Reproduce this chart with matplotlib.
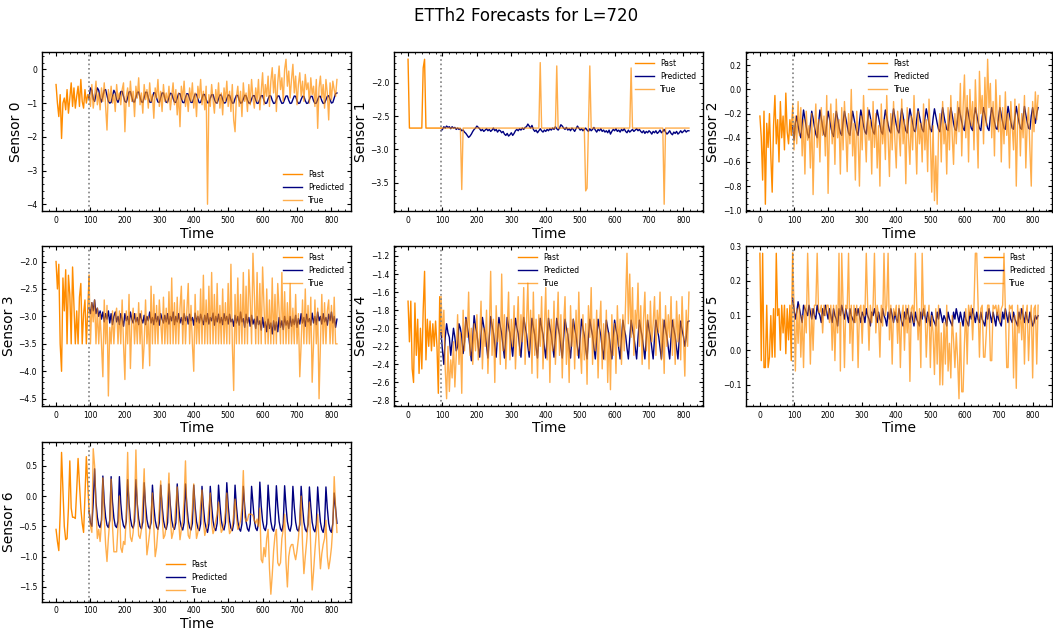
import numpy as np
import matplotlib
matplotlib.use("Agg")
from matplotlib import pyplot as plt

title = "ETTh2 Forecasts for L=720"
context_len = 96

# time axis: past window sampled every 4 steps, forecast window likewise
t_past = np.arange(0, 97, 4)
t_future = np.arange(96, 817, 4)

# ---------------- Sensor 0 ----------------
past0 = [-0.45, -1.00, -1.40, -0.75, -2.05, -1.00, -0.85, -1.20, -0.60, -1.30, -0.85, -0.40, -1.10,
         -0.55, -1.15, -0.80, -0.50, -1.10, -0.30, -0.95, -1.15, -0.60, -1.00, -0.75, -0.85]
pred0 = [-0.85, -0.55, -0.62, -0.88, -0.95, -0.75, -0.55, -0.62, -0.85, -0.97, -0.80, -0.62,
         -0.60, -0.78, -0.95, -1.00, -0.98, -0.80, -0.62, -0.70, -0.90, -0.98, -0.85, -0.66,
         -0.65, -0.80, -0.95, -0.98, -0.84, -0.67, -0.66, -0.82, -0.96, -0.97, -0.82, -0.68,
         -0.67, -0.83, -0.96, -0.98, -0.83, -0.68, -0.68, -0.84, -0.97, -0.98, -0.82, -0.69,
         -0.70, -0.85, -0.97, -0.98, -0.84, -0.70, -0.70, -0.86, -0.98, -0.97, -0.83, -0.71,
         -0.72, -0.86, -0.97, -0.98, -0.85, -0.72, -0.72, -0.87, -0.98, -0.99, -0.84, -0.72,
         -0.73, -0.87, -0.98, -0.98, -0.85, -0.73, -0.74, -0.88, -0.99, -0.98, -0.85, -0.74,
         -0.75, -0.89, -0.99, -0.99, -0.86, -0.75, -0.75, -0.89, -0.99, -1.00, -0.87, -0.76,
         -0.76, -0.90, -1.00, -0.99, -0.87, -0.76, -0.77, -0.90, -1.00, -1.00, -0.87, -0.77,
         -0.77, -0.91, -1.00, -0.99, -0.88, -0.77, -0.78, -0.91, -1.00, -1.00, -0.88, -0.78,
         -0.78, -0.91, -1.01, -1.00, -0.88, -0.78, -0.78, -0.92, -1.01, -1.00, -0.88, -0.78,
         -0.79, -0.92, -1.01, -1.00, -0.89, -0.79, -0.79, -0.92, -1.01, -1.00, -0.89, -0.79,
         -0.79, -0.92, -1.01, -1.00, -0.89, -0.79, -0.80, -0.93, -1.01, -1.00, -0.89, -0.80,
         -0.80, -0.93, -1.01, -1.00, -0.89, -0.80, -0.80, -0.93, -1.01, -1.00, -0.90, -0.80,
         -0.80, -0.93, -1.01, -1.00, -0.90, -0.80, -0.78, -0.90, -1.00, -0.98, -0.85, -0.72,
         -0.70]
true0 = [-0.75, -1.10, -0.45, -1.15, -0.80, -0.35, -1.05, -0.70, -1.20, -0.55, -0.95, -0.40,
         -1.10, -1.80, -0.60, -0.95, -0.50, -1.00, -0.75, -1.25, -0.45, -0.90, -0.70, -1.05,
         -0.60, -0.40, -1.85, -0.80, -0.55, -1.10, -0.35, -0.95, -0.65, -1.40, -0.50, -0.85,
         -0.25, -1.05, -0.70, -1.30, -0.45, -0.90, -0.60, -1.15, -0.40, -0.95, -0.75, -1.45,
         -0.55, -0.85, -0.30, -1.10, -0.65, -1.25, -0.45, -0.95, -0.70, -1.00, -0.50, -1.20,
         -0.80, -0.40, -1.05, -0.60, -1.35, -0.70, -1.70, -0.50, -0.90, -0.35, -1.10, -0.75,
         -1.25, -0.55, -0.95, -0.40, -1.15, -0.70, -1.40, -0.50, -0.85, -0.30, -1.05, -0.65,
         -1.20, -0.50, -4.00, -0.75, -1.10, -0.45, -0.90, -1.30, -0.60, -1.00, -0.40, -1.15,
         -0.70, -1.35, -0.55, -0.95, -0.35, -1.10, -0.65, -1.25, -0.45, -1.50, -1.85, -0.80,
         -0.50, -1.10, -0.65, -1.40, -0.40, -0.95, -0.70, -1.25, -0.45, -1.05, -0.30, -0.85,
         -1.15, -0.55, -0.95, -0.30, -1.20, -0.65, -0.10, -1.05, -0.45, -0.80, -0.20, -1.10,
         -0.35, 0.05, -0.70, -0.15, -1.25, -0.40, 0.10, -0.60, -0.25, -0.95, 0.00, 0.30,
         -0.50, -0.05, -0.85, -0.30, 0.15, -0.70, -0.20, -1.05, -0.45, -0.10, -0.80, -0.35,
         -0.95, -0.15, -0.60, -0.40, -1.00, -0.25, -0.75, -0.50, -1.10, -0.30, -1.75, -0.55,
         -0.20, -0.85, -0.45, -1.15, -0.30, -0.70, -1.50, -0.40, -0.90, -0.35, -0.60, -0.80,
         -0.30]

# ---------------- Sensor 1 ----------------
past1 = [-1.65, -2.68, -2.68, -2.68, -2.68, -2.68, -2.68, -2.68, -2.68, -2.68, -2.68, -1.78, -1.65,
         -2.68, -2.68, -2.68, -2.68, -2.68, -2.68, -2.68, -2.68, -2.68, -2.68, -2.68, -2.68]
pred1 = [-2.72, -2.70, -2.66, -2.68, -2.65, -2.67, -2.66, -2.69, -2.66, -2.68, -2.67, -2.70,
         -2.68, -2.70, -2.69, -2.72, -2.71, -2.74, -2.76, -2.79, -2.82, -2.80, -2.77, -2.73,
         -2.70, -2.68, -2.65, -2.67, -2.69, -2.72, -2.70, -2.73, -2.71, -2.69, -2.72, -2.70,
         -2.73, -2.71, -2.68, -2.72, -2.70, -2.74, -2.71, -2.72, -2.75, -2.73, -2.77, -2.79,
         -2.76, -2.80, -2.78, -2.75, -2.79, -2.76, -2.72, -2.70, -2.72, -2.69, -2.71, -2.68,
         -2.70, -2.67, -2.66, -2.62, -2.65, -2.68, -2.64, -2.70, -2.73, -2.71, -2.75, -2.72,
         -2.69, -2.72, -2.74, -2.71, -2.73, -2.70, -2.72, -2.69, -2.71, -2.68, -2.70, -2.66,
         -2.69, -2.71, -2.68, -2.63, -2.65, -2.68, -2.70, -2.67, -2.71, -2.69, -2.72, -2.68,
         -2.70, -2.73, -2.69, -2.65, -2.68, -2.71, -2.69, -2.72, -2.70, -2.68, -2.71, -2.73,
         -2.69, -2.72, -2.70, -2.67, -2.71, -2.74, -2.70, -2.72, -2.69, -2.73, -2.71, -2.74,
         -2.72, -2.75, -2.71, -2.77, -2.73, -2.70, -2.72, -2.69, -2.73, -2.71, -2.74, -2.70,
         -2.72, -2.69, -2.73, -2.75, -2.71, -2.74, -2.72, -2.70, -2.73, -2.71, -2.69, -2.72,
         -2.70, -2.73, -2.75, -2.72, -2.76, -2.73, -2.75, -2.72, -2.74, -2.77, -2.73, -2.75,
         -2.72, -2.76, -2.74, -2.71, -2.75, -2.73, -2.70, -2.74, -2.77, -2.75, -2.72, -2.76,
         -2.78, -2.74, -2.76, -2.73, -2.77, -2.75, -2.72, -2.75, -2.73, -2.71, -2.74, -2.72,
         -2.72]
true1 = [-2.68, -2.68, -2.68, -2.68, -2.68, -2.68, -2.68, -2.68, -2.68, -2.68, -2.68, -2.68,
         -2.68, -2.68, -2.68, -3.60, -2.68, -2.68, -2.68, -2.68, -2.68, -2.68, -2.68, -2.68,
         -2.68, -2.68, -2.68, -2.68, -2.68, -2.68, -2.68, -2.68, -2.68, -2.68, -2.68, -2.68,
         -2.68, -2.68, -2.68, -2.68, -2.68, -2.68, -2.68, -2.68, -2.68, -2.68, -2.68, -2.68,
         -2.68, -2.68, -2.68, -2.68, -2.68, -2.68, -2.68, -2.68, -2.68, -2.68, -2.68, -2.68,
         -2.68, -2.68, -2.68, -2.68, -2.68, -2.68, -2.68, -2.68, -2.68, -2.68, -2.68, -2.68,
         -1.70, -2.68, -2.68, -2.68, -2.68, -2.68, -2.68, -2.68, -2.68, -2.68, -2.68, -2.68,
         -1.75, -2.68, -2.68, -2.68, -2.68, -2.68, -2.68, -2.68, -2.68, -2.68, -2.68, -2.68,
         -2.68, -2.68, -2.68, -2.68, -2.68, -2.68, -2.68, -2.68, -2.68, -3.62, -3.58, -2.68,
         -1.75, -2.68, -2.68, -2.68, -2.68, -2.68, -2.68, -2.68, -2.68, -2.68, -2.68, -2.68,
         -2.68, -2.68, -2.68, -2.68, -2.68, -2.68, -2.68, -2.68, -2.68, -2.68, -2.68, -2.68,
         -2.68, -2.68, -2.68, -2.68, -2.68, -2.68, -1.78, -2.68, -2.68, -2.68, -2.68, -2.68,
         -2.68, -2.68, -2.68, -2.68, -2.68, -2.68, -2.68, -2.68, -2.68, -2.68, -2.68, -2.68,
         -2.68, -2.68, -2.68, -2.68, -2.68, -2.68, -3.82, -2.68, -2.68, -2.68, -2.68, -2.68,
         -2.68, -2.68, -2.68, -2.68, -2.68, -2.68, -2.68, -2.68, -2.68, -2.68, -2.68, -2.68,
         -2.68]

# ---------------- Sensor 2 ----------------
past2 = [-0.22, -0.40, -0.75, -0.18, -0.95, -0.28, -0.48, -0.20, -0.55, -0.85, -0.30, -0.05, -0.45,
         -0.25, -0.60, -0.10, -0.40, -0.22, -0.50, -0.03, -0.35, -0.45, -0.25, -0.38, -0.15]
pred2 = [-0.30, -0.42, -0.28, -0.22, -0.30, -0.36, -0.40, -0.28, -0.17, -0.24, -0.31, -0.37,
         -0.40, -0.29, -0.18, -0.24, -0.31, -0.37, -0.40, -0.28, -0.17, -0.24, -0.31, -0.37,
         -0.39, -0.28, -0.18, -0.24, -0.31, -0.36, -0.39, -0.28, -0.18, -0.24, -0.31, -0.36,
         -0.38, -0.27, -0.18, -0.24, -0.30, -0.36, -0.38, -0.27, -0.18, -0.24, -0.30, -0.35,
         -0.38, -0.27, -0.17, -0.23, -0.30, -0.35, -0.37, -0.26, -0.17, -0.23, -0.30, -0.35,
         -0.37, -0.26, -0.17, -0.23, -0.29, -0.35, -0.37, -0.26, -0.17, -0.23, -0.29, -0.34,
         -0.36, -0.25, -0.16, -0.23, -0.29, -0.34, -0.36, -0.25, -0.16, -0.22, -0.29, -0.34,
         -0.36, -0.25, -0.16, -0.22, -0.28, -0.34, -0.35, -0.25, -0.16, -0.22, -0.28, -0.33,
         -0.35, -0.24, -0.16, -0.22, -0.28, -0.33, -0.35, -0.24, -0.16, -0.22, -0.28, -0.33,
         -0.35, -0.24, -0.15, -0.22, -0.28, -0.33, -0.34, -0.24, -0.15, -0.21, -0.28, -0.33,
         -0.34, -0.24, -0.15, -0.21, -0.27, -0.32, -0.34, -0.23, -0.15, -0.21, -0.27, -0.32,
         -0.34, -0.23, -0.15, -0.21, -0.27, -0.32, -0.34, -0.23, -0.15, -0.21, -0.27, -0.32,
         -0.34, -0.23, -0.15, -0.21, -0.27, -0.32, -0.33, -0.23, -0.15, -0.21, -0.27, -0.32,
         -0.33, -0.23, -0.14, -0.21, -0.27, -0.32, -0.33, -0.23, -0.14, -0.21, -0.27, -0.32,
         -0.33, -0.23, -0.14, -0.21, -0.27, -0.32, -0.33, -0.22, -0.15, -0.22, -0.28, -0.20,
         -0.15]
true2 = [-0.12, -0.50, -0.22, -0.45, -0.10, -0.38, -0.15, -0.55, -0.25, -0.70, -0.18, -0.42,
         -0.30, -0.65, -0.20, -0.87, -0.35, -0.12, -0.48, -0.25, -0.60, -0.15, -0.38, -0.22,
         -0.55, -0.05, -0.86, -0.30, -0.12, -0.45, -0.20, -0.62, -0.08, -0.40, -0.25, -0.70,
         -0.15, -0.50, -0.10, -0.35, -0.68, -0.20, -0.45, 0.00, -0.55, -0.28, -0.75, -0.18,
         -0.40, -0.80, -0.22, -0.50, -0.05, -0.35, -0.60, -0.15, -0.42, -0.25, -0.70, -0.10,
         -0.48, -0.20, -0.65, -0.30, -0.80, -0.12, -0.45, -0.25, -0.58, -0.05, -0.38, -0.72,
         -0.20, -0.50, -0.10, -0.42, -0.65, -0.18, -0.35, -0.55, -0.08, -0.45, -0.25, -0.78,
         -0.15, -0.40, -0.62, -0.22, -0.50, -0.05, -0.35, -0.70, -0.18, -0.45, -0.28, -0.60,
         -0.12, -0.50, -0.25, -0.68, -0.08, -0.40, -0.85, -0.30, -0.92, -0.55, -0.95, -0.35,
         -0.20, -0.60, -0.10, -0.45, -0.28, -0.70, -0.15, -0.50, -0.05, -0.38, -0.62, -0.20,
         -0.45, -0.10, -0.35, 0.05, -0.55, -0.15, 0.12, -0.40, -0.05, -0.60, 0.00, -0.30,
         -0.10, -0.50, 0.08, -0.25, -0.65, 0.15, -0.20, -0.05, -0.45, 0.10, -0.30, 0.25,
         -0.15, 0.05, -0.40, -0.10, -0.55, 0.08, -0.25, -0.35, -0.05, -0.60, -0.15, -0.45,
         -0.02, -0.38, -0.20, -0.65, -0.10, -0.30, -0.50, -0.08, -0.80, -0.25, -0.12, -0.55,
         -0.20, -0.40, -0.05, -0.65, -0.28, -0.15, -0.50, -0.80, -0.10, -0.35, -0.02, -0.25,
         -0.05]

# ---------------- Sensor 3 ----------------
past3 = [-2.00, -2.50, -2.05, -3.50, -4.00, -2.30, -2.90, -2.15, -3.50, -2.25, -2.60, -3.50, -2.10,
         -2.80, -3.50, -2.90, -3.50, -2.65, -2.40, -3.50, -2.95, -2.70, -3.50, -2.90, -2.25]
pred3 = [-2.85, -2.95, -2.75, -2.90, -2.70, -2.95, -2.85, -3.00, -2.90, -3.05, -2.92, -3.10,
         -2.95, -3.05, -2.90, -3.12, -2.95, -3.15, -3.00, -2.92, -3.10, -3.00, -3.15, -2.95,
         -3.05, -3.18, -2.95, -3.08, -3.00, -3.15, -2.92, -3.05, -3.12, -2.95, -3.10, -3.02,
         -3.15, -2.95, -3.05, -3.12, -2.98, -3.15, -3.00, -3.08, -2.92, -3.12, -3.02, -3.15,
         -2.95, -3.10, -3.00, -3.16, -2.95, -3.05, -3.12, -2.98, -3.10, -2.95, -3.14, -3.00,
         -3.08, -2.92, -3.15, -3.00, -3.10, -2.95, -3.12, -3.02, -3.15, -2.95, -3.08, -3.00,
         -3.14, -2.96, -3.08, -3.02, -3.16, -2.94, -3.10, -3.00, -3.12, -2.96, -3.06, -3.15,
         -2.98, -3.10, -2.95, -3.14, -3.02, -3.08, -2.94, -3.16, -3.00, -3.10, -2.96, -3.12,
         -3.02, -3.15, -2.95, -3.08, -3.00, -3.14, -2.96, -3.10, -3.05, -3.18, -2.98, -3.12,
         -3.00, -3.16, -2.92, -3.10, -3.04, -3.20, -2.96, -3.12, -3.02, -3.18, -2.98, -3.14,
         -3.05, -3.22, -3.00, -3.15, -3.08, -3.25, -3.02, -3.20, -3.10, -3.28, -3.05, -3.22,
         -3.12, -3.32, -3.08, -3.25, -3.10, -3.28, -3.02, -3.20, -3.08, -3.24, -3.00, -3.16,
         -3.08, -3.22, -3.00, -3.18, -3.05, -3.15, -2.98, -3.20, -3.04, -3.14, -2.95, -3.12,
         -3.02, -3.18, -2.96, -3.10, -3.04, -3.16, -2.94, -3.12, -3.00, -3.15, -2.92, -3.08,
         -3.00, -3.14, -2.95, -3.10, -3.02, -3.16, -2.96, -3.08, -2.92, -3.12, -3.00, -3.20,
         -3.05]
true3 = [-2.30, -3.50, -2.75, -3.10, -2.70, -3.50, -2.85, -3.50, -2.95, -3.50, -4.10, -2.70,
         -3.50, -2.80, -4.45, -3.20, -3.50, -2.90, -3.50, -3.00, -2.85, -3.50, -2.90, -3.50,
         -2.70, -3.50, -4.15, -2.90, -3.50, -2.60, -3.95, -3.10, -2.85, -3.50, -2.95, -3.50,
         -2.75, -3.50, -2.90, -3.95, -3.50, -2.70, -3.50, -3.00, -3.90, -2.45, -3.50, -2.60,
         -3.50, -2.80, -3.50, -2.70, -3.10, -3.50, -2.65, -3.50, -2.85, -3.50, -2.55, -3.50,
         -2.30, -3.50, -2.75, -3.50, -2.65, -3.50, -2.85, -2.45, -3.50, -2.70, -3.50, -2.90,
         -2.40, -3.50, -2.80, -3.50, -4.00, -2.60, -3.50, -2.90, -3.50, -2.50, -3.50, -2.25,
         -3.50, -2.70, -3.50, -2.45, -3.50, -2.20, -3.50, -2.60, -3.50, -2.40, -3.50, -2.80,
         -3.50, -2.50, -3.50, -2.75, -3.50, -2.40, -3.50, -2.05, -3.50, -4.35, -2.60, -3.50,
         -2.30, -3.50, -2.60, -3.50, -2.20, -3.50, -2.45, -3.50, -2.15, -2.70, -3.50, -1.85,
         -2.60, -3.50, -2.20, -3.50, -2.40, -3.50, -2.10, -2.80, -3.50, -2.50, -3.50, -2.70,
         -3.50, -2.30, -3.50, -2.60, -3.50, -2.40, -2.90, -3.50, -2.20, -3.50, -2.55, -3.50,
         -2.75, -3.50, -2.40, -3.50, -2.85, -3.50, -2.60, -3.50, -2.95, -4.10, -3.50, -2.70,
         -3.50, -2.50, -3.50, -2.80, -3.50, -2.65, -4.20, -3.50, -2.70, -3.50, -2.85, -4.50,
         -3.50, -2.60, -3.50, -2.75, -3.50, -2.90, -2.70, -3.50, -2.80, -3.50, -2.65, -3.50,
         -3.50]

# ---------------- Sensor 4 ----------------
past4 = [-1.70, -2.15, -1.70, -2.45, -2.60, -1.72, -2.30, -1.90, -2.50, -2.00, -2.45, -1.80, -1.37,
         -2.35, -1.90, -2.20, -1.92, -2.25, -1.95, -2.20, -1.92, -2.20, -2.72, -1.65, -2.05]
pred4 = [-2.05, -2.25, -2.40, -2.10, -1.95, -2.05, -2.10, -2.30, -2.15, -2.00, -2.10, -2.25,
         -2.20, -1.95, -2.00, -2.10, -2.28, -2.15, -1.88, -1.98, -2.08, -2.22, -2.36, -2.10,
         -1.86, -1.98, -2.06, -2.20, -2.32, -2.08, -1.88, -1.98, -2.06, -2.20, -2.33, -2.10,
         -1.87, -1.97, -2.05, -2.18, -2.32, -2.08, -1.88, -1.98, -2.06, -2.20, -2.33, -2.10,
         -1.88, -1.98, -2.06, -2.19, -2.31, -2.08, -1.89, -1.99, -2.06, -2.20, -2.32, -2.09,
         -1.88, -1.98, -2.06, -2.20, -2.32, -2.09, -1.89, -1.99, -2.07, -2.21, -2.33, -2.10,
         -1.89, -1.99, -2.07, -2.21, -2.33, -2.10, -1.89, -1.99, -2.07, -2.20, -2.32, -2.09,
         -1.89, -1.99, -2.07, -2.21, -2.33, -2.10, -1.90, -2.00, -2.07, -2.21, -2.33, -2.10,
         -1.90, -2.00, -2.08, -2.21, -2.33, -2.10, -1.90, -2.00, -2.08, -2.22, -2.34, -2.10,
         -1.90, -2.00, -2.08, -2.22, -2.34, -2.11, -1.90, -2.00, -2.08, -2.22, -2.34, -2.11,
         -1.91, -2.00, -2.08, -2.22, -2.34, -2.11, -1.91, -2.01, -2.08, -2.22, -2.34, -2.11,
         -1.91, -2.01, -2.08, -2.22, -2.34, -2.11, -1.91, -2.01, -2.09, -2.22, -2.34, -2.11,
         -1.91, -2.01, -2.09, -2.22, -2.34, -2.11, -1.91, -2.01, -2.09, -2.22, -2.34, -2.11,
         -1.91, -2.01, -2.09, -2.22, -2.34, -2.11, -1.91, -2.01, -2.09, -2.22, -2.34, -2.11,
         -1.91, -2.01, -2.09, -2.22, -2.34, -2.11, -1.92, -2.02, -2.09, -2.20, -2.10, -1.93,
         -1.92]
true4 = [-1.65, -2.10, -1.80, -2.45, -2.78, -2.20, -2.70, -2.35, -2.55, -2.15, -2.65, -2.30,
         -1.85, -2.40, -2.05, -2.72, -1.80, -2.25, -1.90, -2.10, -1.60, -2.30, -2.00, -2.40,
         -1.95, -2.25, -1.85, -2.35, -2.10, -1.70, -2.45, -2.00, -2.20, -1.80, -2.50, -2.05,
         -1.37, -2.30, -1.90, -2.60, -1.75, -2.15, -1.95, -2.40, -1.40, -2.25, -1.85, -2.45,
         -2.00, -1.60, -2.35, -1.90, -2.20, -1.75, -2.45, -2.05, -1.65, -2.30, -1.85, -2.15,
         -1.55, -2.40, -1.95, -1.50, -2.25, -1.80, -2.50, -1.60, -2.30, -1.90, -2.55, -1.85,
         -2.20, -1.65, -2.45, -2.00, -1.55, -2.35, -1.80, -2.60, -1.90, -2.25, -1.70, -2.40,
         -2.05, -1.60, -2.30, -1.85, -2.55, -1.95, -1.65, -2.40, -2.00, -2.60, -1.75, -2.20,
         -1.90, -2.45, -1.80, -2.30, -1.60, -2.20, -2.50, -1.85, -2.35, -1.95, -2.62, -1.75,
         -2.10, -1.55, -2.40, -1.90, -2.25, -1.80, -2.55, -2.00, -1.70, -2.45, -1.95, -2.35,
         -1.80, -2.60, -2.05, -2.68, -1.85, -2.30, -1.95, -2.50, -1.75, -2.20, -1.90, -2.40,
         -1.85, -2.25, -1.70, -1.17, -1.95, -1.40, -2.10, -1.55, -2.30, -1.80, -2.00, -1.50,
         -2.20, -1.75, -2.40, -1.90, -1.60, -2.25, -1.85, -2.45, -1.70, -2.15, -1.95, -1.65,
         -2.30, -1.80, -2.05, -1.60, -2.35, -1.90, -2.50, -1.75, -2.20, -1.85, -2.10, -1.65,
         -2.30, -1.90, -2.40, -1.70, -2.15, -1.85, -2.35, -1.65, -2.10, -2.53, -1.80, -2.20,
         -1.60]

# ---------------- Sensor 5 ----------------
past5 = [0.28, -0.03, 0.28, -0.05, -0.05, 0.13, -0.05, -0.02, 0.10, -0.02, 0.12, -0.02, 0.28,
         0.10, 0.12, 0.00, 0.13, 0.05, 0.13, -0.01, 0.12, 0.03, 0.13, -0.03, 0.28]
pred5 = [0.15, 0.12, 0.09, 0.11, 0.14, 0.12, 0.10, 0.08, 0.13, 0.12, 0.11, 0.10,
         0.13, 0.11, 0.09, 0.12, 0.10, 0.09, 0.13, 0.11, 0.10, 0.08, 0.12, 0.10,
         0.13, 0.11, 0.09, 0.12, 0.10, 0.08, 0.12, 0.10, 0.09, 0.07, 0.12, 0.10,
         0.13, 0.11, 0.09, 0.12, 0.10, 0.08, 0.12, 0.10, 0.09, 0.08, 0.12, 0.10,
         0.12, 0.10, 0.08, 0.11, 0.10, 0.08, 0.12, 0.10, 0.09, 0.07, 0.11, 0.10,
         0.12, 0.10, 0.08, 0.11, 0.09, 0.08, 0.12, 0.10, 0.09, 0.07, 0.11, 0.09,
         0.12, 0.10, 0.08, 0.11, 0.09, 0.08, 0.12, 0.10, 0.08, 0.07, 0.11, 0.09,
         0.12, 0.10, 0.08, 0.11, 0.09, 0.07, 0.11, 0.09, 0.08, 0.07, 0.11, 0.09,
         0.12, 0.10, 0.08, 0.11, 0.09, 0.07, 0.11, 0.09, 0.08, 0.07, 0.11, 0.09,
         0.12, 0.10, 0.08, 0.10, 0.09, 0.07, 0.11, 0.09, 0.08, 0.07, 0.11, 0.09,
         0.12, 0.10, 0.08, 0.11, 0.09, 0.07, 0.11, 0.09, 0.08, 0.07, 0.11, 0.09,
         0.12, 0.10, 0.08, 0.11, 0.09, 0.08, 0.11, 0.09, 0.08, 0.07, 0.11, 0.09,
         0.12, 0.10, 0.08, 0.11, 0.09, 0.07, 0.11, 0.09, 0.08, 0.07, 0.11, 0.09,
         0.12, 0.10, 0.08, 0.11, 0.09, 0.08, 0.11, 0.09, 0.08, 0.07, 0.11, 0.09,
         0.12, 0.10, 0.08, 0.11, 0.09, 0.08, 0.11, 0.09, 0.07, 0.08, 0.10, 0.09,
         0.10]
true5 = [0.28, 0.13, -0.06, 0.12, 0.02, 0.13, -0.02, 0.10, -0.05, 0.13, 0.05, 0.28,
         0.13, -0.04, 0.12, 0.00, 0.13, 0.13, 0.28, 0.11, 0.11, 0.13, 0.05, 0.13,
         0.10, 0.13, 0.13, 0.08, 0.13, 0.00, 0.13, -0.03, 0.13, 0.05, 0.28, -0.06,
         0.28, 0.13, -0.05, 0.13, 0.12, 0.28, 0.02, 0.13, -0.03, 0.13, 0.08, 0.13,
         -0.05, 0.12, 0.13, 0.02, 0.13, 0.10, 0.28, 0.13, 0.00, 0.13, 0.08, 0.13,
         0.28, 0.05, 0.13, 0.10, -0.02, 0.13, 0.07, 0.28, 0.10, 0.13, 0.28, 0.03,
         0.13, -0.04, 0.12, 0.10, 0.13, 0.02, 0.13, -0.05, 0.10, 0.13, 0.00, 0.13,
         0.05, 0.13, -0.09, 0.12, 0.13, 0.08, 0.28, 0.13, 0.03, 0.12, -0.05, 0.28,
         0.10, 0.13, -0.02, 0.08, 0.13, -0.05, 0.10, 0.05, -0.07, 0.12, -0.04, 0.13,
         -0.10, 0.05, -0.10, 0.08, -0.04, 0.13, -0.06, 0.02, -0.08, 0.10, 0.03, -0.05,
         0.05, -0.03, -0.14, 0.08, -0.12, -0.12, 0.02, 0.12, -0.04, 0.13, 0.10, 0.13,
         0.03, 0.13, 0.28, 0.28, 0.13, -0.02, 0.12, 0.13, -0.02, -0.02, 0.05, 0.13,
         0.13, -0.03, -0.03, 0.13, 0.12, 0.13, 0.10, 0.13, 0.08, 0.12, 0.13, 0.28,
         0.12, -0.05, -0.05, 0.13, 0.12, 0.13, -0.08, 0.10, -0.11, 0.13, 0.05, 0.12,
         0.03, 0.13, -0.04, 0.10, 0.13, -0.03, 0.08, 0.13, -0.08, 0.12, 0.13, -0.04,
         0.13]

# ---------------- Sensor 6 ----------------
past6 = [-0.55, -0.75, -0.90, -0.30, 0.72, 0.10, -0.50, -0.72, -0.70, -0.20, 0.58, -0.20, -0.35,
         -0.35, -0.37, 0.10, 0.62, 0.20, -0.20, -0.45, -0.60, 0.00, 0.65, 0.20, -0.25]
pred6 = [-0.25, -0.45, -0.50, -0.10, 0.45,
         -0.10, -0.35, -0.48, -0.52, -0.40, 0.33, -0.10, -0.35, -0.48, -0.52, -0.40, 0.32,
         -0.10, -0.36, -0.49, -0.52, -0.41, 0.32, -0.12, -0.37, -0.49, -0.53, -0.42, 0.27,
         -0.12, -0.37, -0.49, -0.53, -0.42, 0.27, -0.13, -0.38, -0.50, -0.54, -0.43, 0.22,
         -0.15, -0.39, -0.50, -0.54, -0.44, 0.18, -0.16, -0.40, -0.51, -0.55, -0.44, 0.18,
         -0.15, -0.40, -0.51, -0.55, -0.44, 0.20, -0.15, -0.40, -0.51, -0.55, -0.44, 0.20,
         -0.15, -0.40, -0.51, -0.56, -0.44, 0.20, -0.16, -0.41, -0.52, -0.56, -0.45, 0.18,
         -0.17, -0.42, -0.53, -0.57, -0.46, 0.16, -0.17, -0.42, -0.53, -0.60, -0.46, 0.16,
         -0.16, -0.41, -0.53, -0.57, -0.45, 0.18, -0.14, -0.40, -0.52, -0.56, -0.44, 0.22,
         -0.16, -0.41, -0.53, -0.57, -0.45, 0.18, -0.17, -0.42, -0.54, -0.58, -0.46, 0.16,
         -0.17, -0.42, -0.54, -0.58, -0.46, 0.16, -0.13, -0.40, -0.53, -0.57, -0.45, 0.23,
         -0.16, -0.41, -0.53, -0.57, -0.46, 0.18, -0.17, -0.42, -0.54, -0.58, -0.46, 0.17,
         -0.17, -0.42, -0.54, -0.58, -0.46, 0.17, -0.17, -0.42, -0.54, -0.58, -0.47, 0.16,
         -0.18, -0.43, -0.55, -0.58, -0.47, 0.16, -0.18, -0.43, -0.55, -0.59, -0.47, 0.15,
         -0.18, -0.43, -0.55, -0.59, -0.47, 0.15, -0.18, -0.43, -0.55, -0.60, -0.47, 0.15,
         -0.20, -0.45, -0.56, -0.60, -0.45, 0.05,
         -0.20, -0.45]
true6 = [-0.25, -0.50, -0.60, 0.78, 0.50,
         -0.20, -0.70, -0.55, -0.75, -0.45, 0.30, -0.35, -0.80, -1.08, -0.70, -0.40, 0.28,
         -0.50, -0.92, -0.92, -0.92, -0.50, 0.00, -0.85, -0.93, -0.75, -0.80, -0.30, 0.72,
         -0.30, -0.68, -0.75, -0.60, -0.20, 0.76, -0.20, -0.65, -0.70, -0.55, -0.10, 0.45,
         -0.40, -0.97, -0.80, -0.60, -0.30, 0.05, -0.50, -1.00, -0.85, -0.55, -0.20, 0.25,
         -0.30, -0.70, -0.65, -0.50, -0.10, 0.38, -0.35, -0.70, -0.60, -0.45, -0.15, 0.15,
         -0.40, -0.72, -0.55, -0.40, -0.05, 0.58, -0.30, -0.65, -0.70, -0.50, -0.20, 0.20,
         -0.35, -0.70, -0.60, -0.45, -0.15, 0.10, -0.40, -0.65, -0.55, -0.45, -0.20, 0.05,
         -0.45, -0.62, -0.55, -0.40, -0.30, -0.10, -0.40, -0.60, -0.55, -0.45, -0.25, 0.05,
         -0.40, -0.62, -0.58, -0.50, -0.30, -0.05, -0.35, -0.55, -0.50, -0.40, -0.20, 0.42,
         -0.35, -0.42, -0.40, -0.30, -0.30, -0.30, -0.32, -0.40, -0.45, -0.38, -0.50, -0.20,
         -1.05, -1.10, -0.85, -1.00, -0.70, -0.55, -1.20, -1.62, -1.30, -0.90, -0.65, -0.55,
         -1.10, -1.15, -1.10, -0.70, -0.55, -0.30, -1.10, -1.50, -1.00, -0.85, -0.80, -0.80,
         -0.95, -1.05, -0.90, -0.70, -0.40, 0.00, -0.80, -1.28, -1.00, -0.75, -0.45, -0.10,
         -0.90, -1.55, -1.25, -0.90, -0.60, -0.30, -0.80, -1.20, -0.95, -0.80, -0.70, -0.40,
         -1.00, -1.20, -1.05, -0.85, -0.50, 0.32,
         -0.20, -0.60]

pasts = [past0, past1, past2, past3, past4, past5, past6]
preds = [pred0, pred1, pred2, pred3, pred4, pred5, pred6]
trues = [true0, true1, true2, true3, true4, true5, true6]
legend_locs = ["lower right", "upper right", "upper center", "upper right",
               "upper center", "upper right", "lower center"]

# axes boxes in pixels (left, top, right, bottom) on a 1053x630 canvas
W, H = 1053, 630
cols = [(42, 351), (394, 703), (746, 1052)]
rows = [(52, 211.5), (246, 406), (441.5, 601.5)]

fig = plt.figure(figsize=(W / 100, H / 100), dpi=100)
fig.text(0.5, 1 - 16 / H, title, ha="center", va="center", fontsize=12)

for i in range(7):
    x0, x1 = cols[i % 3]
    y0, y1 = rows[i // 3]
    ax = fig.add_axes([x0 / W, 1 - y1 / H, (x1 - x0) / W, (y1 - y0) / H])

    ax.plot(t_past, pasts[i], color="#ff8c00", lw=1.0, label="Past")
    ax.plot(t_future, preds[i], color="navy", lw=1.0, label="Predicted")
    ax.plot(t_future, trues[i], color="#ff8c00", lw=1.0, alpha=0.7, label="True")
    ax.axvline(context_len, color="gray", ls=":", lw=1.2)

    ax.set_xticks(np.arange(0, 801, 100))
    ax.minorticks_on()
    ax.tick_params(which="both", direction="in", top=True, right=True, labelsize=5.5)
    ax.tick_params(which="major", length=3, width=0.8)
    ax.tick_params(which="minor", length=1.5, width=0.6)
    for s in ax.spines.values():
        s.set_linewidth(1.0)
    ax.set_xlabel("Time", fontsize=10, labelpad=1)
    ax.set_ylabel("Sensor %d" % i, fontsize=10, labelpad=2)
    ax.legend(loc=legend_locs[i], fontsize=5.5, frameon=False, handlelength=2.5)

plt.savefig("out.png", dpi=100)
